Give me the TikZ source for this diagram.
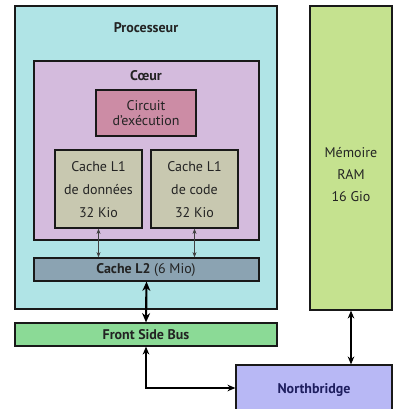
\documentclass[tikz,border=0pt]{standalone}
\usepackage{fontspec}
\setmainfont{PT Sans}
\usetikzlibrary{fit,arrows.meta}
\definecolor{procC}{RGB}{176,228,230}
\definecolor{coeurC}{RGB}{212,187,221}
\definecolor{circC}{RGB}{204,140,165}
\definecolor{lunC}{RGB}{200,200,176}
\definecolor{ldeuxC}{RGB}{139,163,178}
\definecolor{fsbC}{RGB}{139,218,150}
\definecolor{ramC}{RGB}{197,226,143}
\definecolor{nbC}{RGB}{184,184,245}
\definecolor{txtC}{RGB}{35,35,35}
\definecolor{navyC}{RGB}{30,30,95}
\definecolor{edgeC}{RGB}{25,25,25}
\begin{document}
\begin{tikzpicture}[x=0.75pt,y=-0.75pt,
  box/.style={draw=edgeC,line width=0.9pt,inner sep=0pt},
  txt/.style={inner sep=0pt,anchor=base,text=txtC,font=\fontsize{10.5}{12.6}\selectfont},
  lbl/.style={txt,font=\fontsize{10.5}{12.6}\selectfont\bfseries},
  thin/.style={{Stealth[length=4pt,width=3pt]}-{Stealth[length=4pt,width=3pt]},line width=0.5pt,draw=black!75},
  thick/.style={{Stealth[length=7pt,width=6pt]}-{Stealth[length=7pt,width=6pt]},line width=1.6pt,draw=black},
  mid/.style={{Stealth[length=6pt,width=5pt]}-{Stealth[length=6pt,width=5pt]},line width=0.9pt,draw=black}]
\useasboundingbox (0,0) rectangle (399,409);
\clip (0,0) rectangle (399,409);
% boxes
\node[box,fill=procC,fit={(15,6) (277,309)}] (proc) {};
\node[box,fill=coeurC,fit={(34,61) (259,240)}] (coeur) {};
\node[box,fill=circC,fit={(96,90) (196,136)}] (circ) {};
\node[box,fill=lunC,fit={(55,150) (142,228)}] (lund) {};
\node[box,fill=lunC,fit={(151,150) (238,228)}] (lunc) {};
\node[box,fill=ldeuxC,fit={(34,258) (259,281)}] (ldeux) {};
\node[box,fill=fsbC,fit={(15,323) (277,346)}] (fsb) {};
\node[box,fill=ramC,fit={(310,6) (392,310)}] (ram) {};
\node[box,fill=nbC,fit={(236,365) (392,411)}] (nb) {};
% texts
\node[lbl] (proclbl) at (146,33) {Processeur};
\node[lbl] (coeurlbl) at (146,81) {Cœur};
\node[txt] (circa) at (146,111) {Circuit};
\node[txt] (circb) at (146,126) {d'exécution};
\node[txt] (lunda) at (98.5,172) {Cache L1};
\node[txt] (lundb) at (98.5,195) {de données};
\node[txt] (lundc) at (98.5,217) {32 Kio};
\node[txt] (lunca) at (194.5,172) {Cache L1};
\node[txt] (luncb) at (194.5,195) {de code};
\node[txt] (luncc) at (194.5,217) {32 Kio};
\node[txt] (ldeuxlbl) at (146,273) {\textbf{Cache L2} (6 Mio)};
\node[lbl] (fsblbl) at (146,339) {Front Side Bus};
\node[txt] (rama) at (351,158) {Mémoire};
\node[txt] (ramb) at (351,179.5) {RAM};
\node[txt] (ramc) at (351,201) {16 Gio};
\node[lbl,text=navyC] (nblbl) at (314,393) {Northbridge};
% connectors
\draw[thin] (lund.south) -- (lund.south |- ldeux.north);
\draw[thin] (lunc.south) -- (lunc.south |- ldeux.north);
\draw[thick] (ldeux.south) -- (fsb.north);
\draw[mid] (fsb.south) |- (nb.west);
\draw[mid] (ram.south) -- (ram.south |- nb.north);
\end{tikzpicture}
\end{document}
